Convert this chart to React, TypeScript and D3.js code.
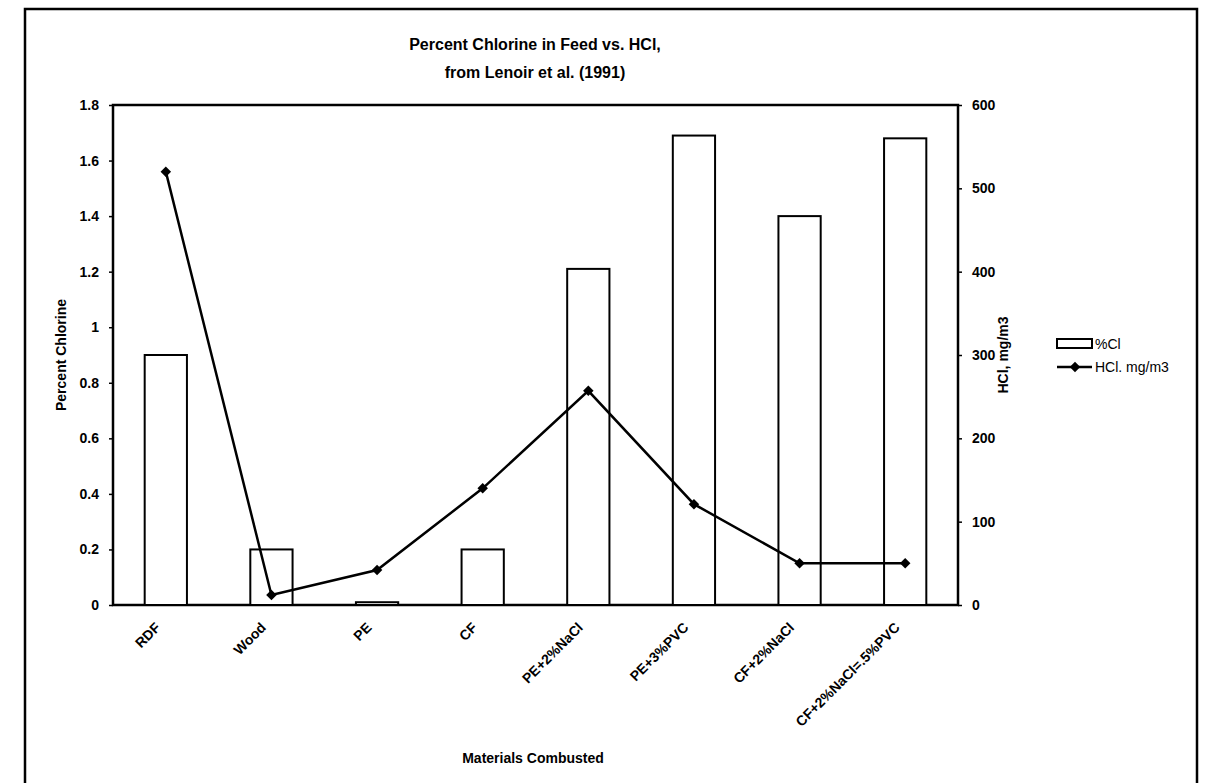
import React, { useEffect, useRef } from 'react';
import * as d3 from 'd3';

const categories = ['RDF', 'Wood', 'PE', 'CF', 'PE+2%NaCl', 'PE+3%PVC', 'CF+2%NaCl', 'CF+2%NaCl=.5%PVC'];
const percentCl = [0.9, 0.2, 0.01, 0.2, 1.21, 1.69, 1.4, 1.68];
const hclValues = [520, 12, 42, 140, 257, 121, 50, 50];
const leftTicks = [0, 0.2, 0.4, 0.6, 0.8, 1, 1.2, 1.4, 1.6, 1.8];
const rightTicks = [0, 100, 200, 300, 400, 500, 600];

const W = 1209;
const H = 783;
const plot = { left: 113, right: 958, top: 105, bottom: 605 };
const FONT = '"Liberation Sans", Arial, sans-serif';

const drawChart = (node: SVGSVGElement) => {
  const svg = d3.select(node);
  svg.selectAll('*').remove();

  // outer frame of the scanned figure
  svg.append('rect')
    .attr('x', 25).attr('y', 9)
    .attr('width', 1172).attr('height', 800)
    .attr('fill', 'none').attr('stroke', '#000').attr('stroke-width', 2.5);

  const x = d3.scaleBand<string>()
    .domain(categories)
    .range([plot.left, plot.right])
    .paddingInner(0.6)
    .paddingOuter(0.3);
  const band = d3.scaleBand<string>().domain(categories).range([plot.left, plot.right]);

  const yLeft = d3.scaleLinear().domain([0, 1.8]).range([plot.bottom, plot.top]);
  const yRight = d3.scaleLinear().domain([0, 600]).range([plot.bottom, plot.top]);

  // plot area box
  svg.append('rect')
    .attr('x', plot.left).attr('y', plot.top)
    .attr('width', plot.right - plot.left).attr('height', plot.bottom - plot.top)
    .attr('fill', 'none').attr('stroke', '#000').attr('stroke-width', 2.5);

  // bars
  svg.selectAll('.bar')
    .data(percentCl)
    .enter()
    .append('rect')
    .attr('class', 'bar')
    .attr('x', (d, i) => x(categories[i]) as number)
    .attr('y', d => yLeft(d))
    .attr('width', x.bandwidth())
    .attr('height', d => plot.bottom - yLeft(d))
    .attr('fill', '#fff')
    .attr('stroke', '#000')
    .attr('stroke-width', 2);

  // line
  const cx = (i: number) => (band(categories[i]) as number) + band.bandwidth() / 2;
  const line = d3.line<number>()
    .x((d, i) => cx(i))
    .y(d => yRight(d));
  svg.append('path')
    .datum(hclValues)
    .attr('d', line)
    .attr('fill', 'none')
    .attr('stroke', '#000')
    .attr('stroke-width', 2.5);

  const diamond = d3.symbol().type(d3.symbolDiamond2).size(70);
  svg.selectAll('.pt')
    .data(hclValues)
    .enter()
    .append('path')
    .attr('class', 'pt')
    .attr('transform', (d, i) => `translate(${cx(i)},${yRight(d)})`)
    .attr('d', diamond)
    .attr('fill', '#000');

  // left axis
  const gL = svg.append('g')
    .attr('transform', `translate(${plot.left},0)`)
    .call(d3.axisLeft(yLeft).tickValues(leftTicks).tickSize(4).tickPadding(10).tickFormat(d => String(d)));
  gL.select('.domain').remove();
  gL.selectAll('line').attr('stroke-width', 1.5);
  gL.selectAll('text').attr('font-family', FONT).attr('font-size', 14).attr('font-weight', 'bold');

  // right axis
  const gR = svg.append('g')
    .attr('transform', `translate(${plot.right},0)`)
    .call(d3.axisRight(yRight).tickValues(rightTicks).tickSize(4).tickPadding(10));
  gR.select('.domain').remove();
  gR.selectAll('line').attr('stroke-width', 1.5);
  gR.selectAll('text').attr('font-family', FONT).attr('font-size', 14).attr('font-weight', 'bold');

  // category labels
  svg.selectAll('.cat')
    .data(categories)
    .enter()
    .append('text')
    .attr('class', 'cat')
    .attr('transform', (d, i) => `translate(${cx(i) - 8},${plot.bottom + 20}) rotate(-45)`)
    .attr('text-anchor', 'end')
    .attr('dy', '0.35em')
    .attr('font-family', FONT)
    .attr('font-size', 14)
    .attr('font-weight', 'bold')
    .text(d => d);

  // titles
  const title = svg.append('text')
    .attr('x', 535).attr('y', 50)
    .attr('text-anchor', 'middle')
    .attr('font-family', FONT)
    .attr('font-size', 16)
    .attr('font-weight', 'bold');
  title.append('tspan').attr('x', 535).text('Percent Chlorine in Feed vs. HCl,');
  title.append('tspan').attr('x', 535).attr('dy', 28).text('from Lenoir et al. (1991)');

  svg.append('text')
    .attr('x', 533).attr('y', 763)
    .attr('text-anchor', 'middle')
    .attr('font-family', FONT).attr('font-size', 14).attr('font-weight', 'bold')
    .text('Materials Combusted');

  svg.append('text')
    .attr('transform', `translate(66,355) rotate(-90)`)
    .attr('text-anchor', 'middle')
    .attr('font-family', FONT).attr('font-size', 14).attr('font-weight', 'bold')
    .text('Percent Chlorine');

  svg.append('text')
    .attr('transform', `translate(1008,355) rotate(-90)`)
    .attr('text-anchor', 'middle')
    .attr('font-family', FONT).attr('font-size', 14).attr('font-weight', 'bold')
    .text('HCl, mg/m3');

  // legend
  const lg = svg.append('g').attr('transform', 'translate(1057,0)');
  lg.append('rect')
    .attr('x', 0).attr('y', 339).attr('width', 35).attr('height', 9)
    .attr('fill', '#fff').attr('stroke', '#000').attr('stroke-width', 2);
  lg.append('text')
    .attr('x', 38).attr('y', 349)
    .attr('font-family', FONT).attr('font-size', 14)
    .text('%Cl');
  lg.append('line')
    .attr('x1', 0).attr('x2', 35).attr('y1', 367).attr('y2', 367)
    .attr('stroke', '#000').attr('stroke-width', 2.5);
  lg.append('path')
    .attr('transform', 'translate(18,367)')
    .attr('d', diamond)
    .attr('fill', '#000');
  lg.append('text')
    .attr('x', 38).attr('y', 372)
    .attr('font-family', FONT).attr('font-size', 14)
    .text('HCl. mg/m3');
};

const App = () => {
  const ref = useRef<SVGSVGElement>(null);
  useEffect(() => {
    if (ref.current) drawChart(ref.current);
  }, []);
  return (
    <svg
      ref={ref}
      width={W}
      height={H}
      style={{ position: 'absolute', left: 0, top: 0, background: '#fff' }}
    />
  );
};

export default App;
